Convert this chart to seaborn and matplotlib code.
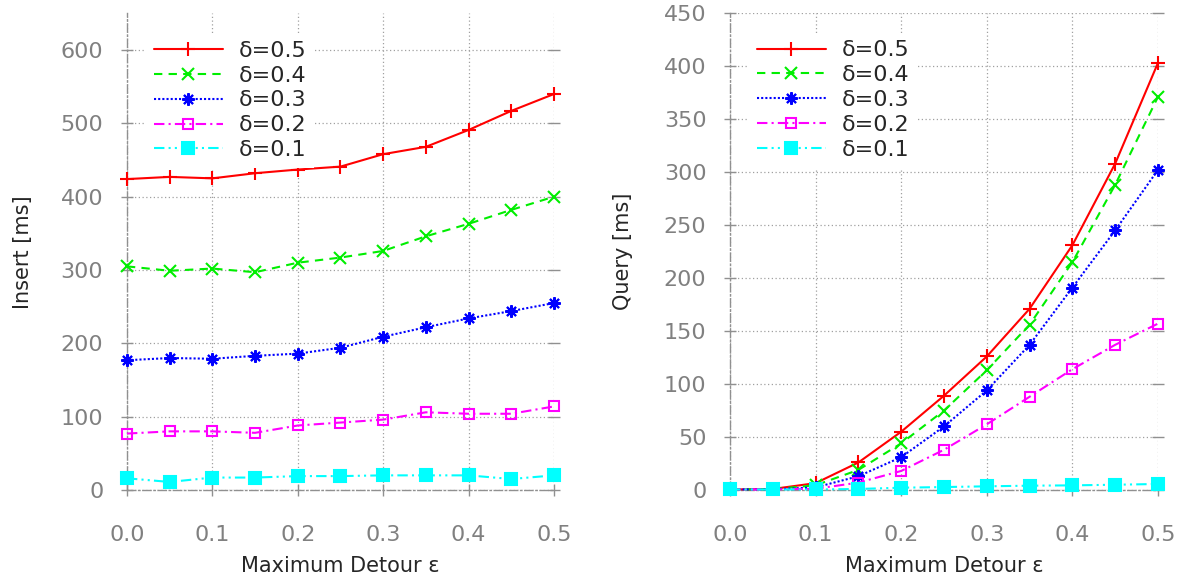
import matplotlib
matplotlib.use("Agg")
import matplotlib.pyplot as plt
import seaborn as sns
import numpy as np
import pandas as pd

# ---------------- data ----------------
eps = [0.0, 0.05, 0.1, 0.15, 0.2, 0.25, 0.3, 0.35, 0.4, 0.45, 0.5]
labels = ["δ=0.5", "δ=0.4", "δ=0.3", "δ=0.2", "δ=0.1"]

insert_d05 = [424, 427, 425, 432, 437, 441, 458, 468, 491, 517, 540]
insert_d04 = [305, 299, 302, 297, 310, 317, 326, 346, 363, 382, 400]
insert_d03 = [177, 180, 179, 183, 186, 194, 209, 222, 234, 244, 255]
insert_d02 = [77, 80, 80, 78, 88, 92, 96, 106, 104, 104, 114]
insert_d01 = [16, 11, 17, 17, 19, 19, 20, 20, 20, 15, 20]

query_d05 = [0.5, 1.0, 6.5, 26, 55, 89, 126, 171, 231, 308, 403]
query_d04 = [0.5, 0.8, 4.5, 19, 44, 75, 113, 156, 215, 288, 371]
query_d03 = [0.5, 0.7, 2.5, 13, 31, 60, 94, 137, 191, 245, 302]
query_d02 = [0.5, 0.6, 1.2, 7, 18, 38, 62, 88, 114, 137, 157]
query_d01 = [0.5, 0.5, 0.5, 1.0, 2.2, 2.8, 3.5, 4.1, 4.4, 5.0, 5.7]

insert_series = [insert_d05, insert_d04, insert_d03, insert_d02, insert_d01]
query_series = [query_d05, query_d04, query_d03, query_d02, query_d01]

# ---------------- styles ----------------
colors = ["#ff0000", "#00ee00", "#0000ff", "#ff00ff", "#00ffff"]
linestyles = ["-", (0, (4, 3)), (0, (1, 1)), (0, (5, 2, 1, 2)), (0, (5, 2, 1, 2, 1, 2))]
markers = ["+", "x", (8, 2, 0), "s", "s"]
msizes = [10, 9, 9, 7, 8]
mfaces = ["#ff0000", "#00ee00", "#0000ff", "none", "#00ffff"]

sns.set_style("white")
plt.rcParams['font.family'] = ['DejaVu Sans']

fig = plt.figure(figsize=(11.82, 5.78), dpi=100)
ax1 = fig.add_axes([0.1074, 0.1522, 0.3613, 0.8247])
ax2 = fig.add_axes([0.6176, 0.1522, 0.3621, 0.8253])

grey = "#808080"


def draw(ax, series, ylim, yticks, ylabel, ylabelpad):
    handles = []
    for vals, lab, c, ls, mk, ms, mf in zip(series, labels, colors, linestyles,
                                             markers, msizes, mfaces):
        df = pd.DataFrame({"eps": eps, "val": vals})
        sns.lineplot(data=df, x="eps", y="val", ax=ax, color=c, linestyle=ls,
                     marker=mk, markersize=ms, markerfacecolor=mf,
                     markeredgecolor=c, markeredgewidth=1.5, linewidth=1.5,
                     clip_on=False, zorder=3, errorbar=None, label=lab,
                     legend=False)
        handles.append(ax.lines[-1])
    ax.set_xlim(0, 0.5)
    ax.set_ylim(*ylim)
    ax.set_xticks([0.0, 0.1, 0.2, 0.3, 0.4, 0.5])
    ax.set_xticklabels(["0.0", "0.1", "0.2", "0.3", "0.4", "0.5"])
    ax.set_yticks(yticks)
    ax.set_yticklabels([str(t) for t in yticks])
    ax.grid(True, linestyle=(0, (1, 2)), color="#a0a0a0", linewidth=0.9, zorder=0)
    ax.set_axisbelow(True)
    for s in ["top", "right"]:
        ax.spines[s].set_visible(False)
    for s in ["left", "bottom"]:
        ax.spines[s].set_linestyle((0, (6, 2, 1, 2)))
        ax.spines[s].set_color("#909090")
        ax.spines[s].set_linewidth(1.0)
    ax.tick_params(axis="both", direction="inout", length=8, width=1,
                   color="#909090", labelcolor=grey, labelsize=16)
    ax.tick_params(axis="y", right=True, left=True, pad=13)
    ax.tick_params(axis="x", bottom=True, top=False, pad=21)
    ax.set_xlabel("Maximum Detour ε", fontsize=15, labelpad=8)
    ax.set_ylabel(ylabel, fontsize=15, labelpad=ylabelpad)
    leg = ax.legend(handles=handles, labels=labels, loc="upper left",
                    bbox_to_anchor=(0.045, 0.959), fontsize=16, frameon=True,
                    handlelength=3.1, handletextpad=0.7, labelspacing=0.22,
                    borderpad=0.35, borderaxespad=0, numpoints=1, fancybox=False)
    leg.get_frame().set_facecolor("white")
    leg.get_frame().set_edgecolor("none")
    leg.get_frame().set_alpha(1)
    leg.set_zorder(5)


draw(ax1, insert_series, (0, 650), [0, 100, 200, 300, 400, 500, 600], "Insert [ms]", 20)
draw(ax2, query_series, (0, 450), [0, 50, 100, 150, 200, 250, 300, 350, 400, 450], "Query [ms]", 22)

fig.savefig("out.png", dpi=100)
